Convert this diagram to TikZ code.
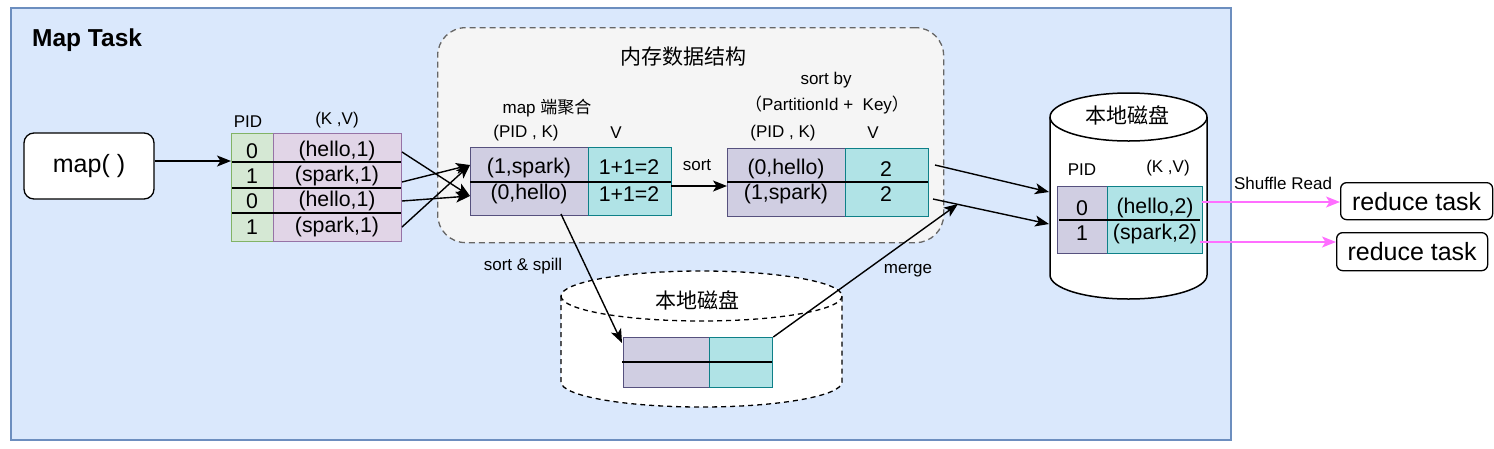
\documentclass[tikz,border=0pt]{standalone}
\usepackage{fontspec}
\setmainfont{Liberation Sans}
\newfontfamily\cjk{Noto Sans CJK SC}
\usetikzlibrary{arrows.meta}
\definecolor{outerfill}{HTML}{DAE8FC}
\definecolor{outerline}{HTML}{6C8EBF}
\definecolor{gfill}{HTML}{D5E8D4}
\definecolor{gline}{HTML}{82B366}
\definecolor{pfill}{HTML}{E1D5E7}
\definecolor{pline}{HTML}{9673A6}
\definecolor{qfill}{HTML}{D0CEE2}
\definecolor{qline}{HTML}{56517E}
\definecolor{tfill}{HTML}{B0E3E6}
\definecolor{tline}{HTML}{0E8088}
\definecolor{memfill}{HTML}{F5F5F5}
\definecolor{memline}{HTML}{666666}
\definecolor{pinkline}{HTML}{FF6EFF}
\tikzset{
  base/.style={font=\fontsize{21.3}{24}\selectfont, inner sep=0},
  lbl/.style={font=\fontsize{17}{20}\selectfont, inner sep=0},
  big/.style={font=\fontsize{25}{28}\selectfont, inner sep=0},
  cjklbl/.style={font=\fontsize{21}{24}\selectfont\cjk, inner sep=0},
  cell/.style={draw, line width=1.3pt, inner sep=0, anchor=north west},
  gcell/.style={cell, fill=gfill, draw=gline},
  pcell/.style={cell, fill=pfill, draw=pline},
  qcell/.style={cell, fill=qfill, draw=qline},
  tcell/.style={cell, fill=tfill, draw=tline},
  sepline/.style={line width=1.3pt},
  arr/.style={line width=1.4pt, -{Stealth[length=14pt,width=11pt,inset=3.5pt]}},
  parr/.style={arr, draw=pinkline, fill=pinkline},
  rbox/.style={draw, line width=1.3pt, fill=white, inner sep=0},
}
\begin{document}
\begin{tikzpicture}[x=1pt,y=-1pt]
\useasboundingbox (0,0) rectangle (1494,448);
% outer frame
\node[draw=outerline, fill=outerfill, line width=1.5pt, anchor=north west, minimum width=1220pt, minimum height=432pt, inner sep=0] (frame) at (10,7) {};
\node[font=\fontsize{24.5}{28}\selectfont\bfseries, inner sep=0, anchor=west] (title) at (32,40) {Map Task};
% memory container
\node[draw=memline, fill=memfill, line width=1.3pt, dash pattern=on 6pt off 4pt, rounded corners=28pt, anchor=north west, minimum width=506pt, minimum height=215pt, inner sep=0] (mem) at (437,27) {};
\node[cjklbl] (memtitle) at (683,57) {内存数据结构};
% local disk (dashed)
\filldraw[fill=white, line width=1.3pt, dash pattern=on 5pt off 4pt] (561,296) -- (561,382) arc[start angle=180, end angle=0, x radius=140.5, y radius=25] -- (842,296) arc[start angle=0, end angle=-180, x radius=140.5, y radius=25] -- cycle;
\draw[line width=1.3pt, dash pattern=on 5pt off 4pt] (561,296) arc[start angle=180, end angle=0, x radius=140.5, y radius=25];
\node[cjklbl] (disk1) at (697,300) {本地磁盘};
% local disk (solid)
\filldraw[fill=white, line width=1.5pt] (1050,117) -- (1050,275) arc[start angle=180, end angle=0, x radius=78.5, y radius=24] -- (1207,117) arc[start angle=0, end angle=-180, x radius=78.5, y radius=24] -- cycle;
\draw[line width=1.5pt] (1050,117) arc[start angle=180, end angle=0, x radius=78.5, y radius=24];
\node[cjklbl] (disk2) at (1127,115) {本地磁盘};
% map()
\node[rbox, big, rounded corners=10pt, minimum width=130pt, minimum height=66pt] (map) at (89,166) {map( )};
% table 1
\node[lbl] (h1a) at (248,122) {PID};
\node[lbl] (h1b) at (337,120) {(K ,V)};
\node[gcell, minimum width=42pt, minimum height=108pt] (t1p) at (231,133) {};
\node[pcell, minimum width=128pt, minimum height=108pt] (t1k) at (273,133) {};
\draw[sepline] (232,162) -- (401,162);
\draw[sepline] (232,188) -- (401,188);
\draw[sepline] (232,213) -- (401,213);
\node[base] (a1) at (252,151) {0};
\node[base] (a2) at (252,176) {1};
\node[base] (a3) at (252,201) {0};
\node[base] (a4) at (252,227) {1};
\node[base] (b1) at (337,151) {(hello,1)};
\node[base] (b2) at (337,176) {(spark,1)};
\node[base] (b3) at (337,201) {(hello,1)};
\node[base] (b4) at (337,227) {(spark,1)};
% table 2
\node[lbl] (h2t) at (547,108) {map {\cjk 端聚合}};
\node[lbl] (h2a) at (526,133) {(PID , K)};
\node[lbl] (h2b) at (616,133) {V};
\node[qcell, minimum width=118pt, minimum height=68pt] (t2k) at (470,147) {};
\node[tcell, minimum width=83pt, minimum height=68pt] (t2v) at (588,147) {};
\draw[sepline] (470,182) -- (671,182);
\node[base] (c1) at (529,168) {(1,spark)};
\node[base] (c2) at (529,194) {(0,hello)};
\node[base] (d1) at (629,167) {1+1=2};
\node[base] (d2) at (629,194) {1+1=2};
% table 3
\node[lbl] (h3t) at (826,80) {sort by};
\node[lbl] (h3u) at (827,105) {{\cjk （}PartitionId +\ \ Key{\cjk ）}};
\node[lbl] (h3a) at (783,133) {(PID , K)};
\node[lbl] (h3b) at (873,133) {V};
\node[qcell, minimum width=118pt, minimum height=68pt] (t3k) at (727,148) {};
\node[tcell, minimum width=83pt, minimum height=68pt] (t3v) at (845,148) {};
\draw[sepline] (727,182) -- (928,182);
\node[base] (e1) at (786,169) {(0,hello)};
\node[base] (e2) at (786,194) {(1,spark)};
\node[base] (f1) at (886,169) {2};
\node[base] (f2) at (886,194) {2};
\node[lbl] (sortlbl) at (697,165) {sort};
% small spill table
\node[qcell, minimum width=86pt, minimum height=50pt] (sk) at (623,337) {};
\node[tcell, minimum width=63pt, minimum height=50pt] (sv) at (709,337) {};
\draw[sepline] (622,362) -- (772,362);
\node[lbl] (spilllbl) at (523,266) {sort \& spill};
\node[lbl] (mergelbl) at (908,271) {merge};
% disk table
\node[lbl] (h4a) at (1082,170) {PID};
\node[lbl] (h4b) at (1168,168) {(K ,V)};
\node[qcell, minimum width=50pt, minimum height=67pt] (dk) at (1057,186) {};
\node[tcell, minimum width=95pt, minimum height=67pt] (dv) at (1107,186) {};
\draw[sepline] (1059,220) -- (1200,220);
\node[base] (g1) at (1082,208) {0};
\node[base] (g2) at (1082,233) {1};
\node[base] (k1) at (1155,208) {(hello,2)};
\node[base] (k2) at (1155,234) {(spark,2)};
% reduce tasks
\node[rbox, big, rounded corners=6pt, minimum width=152pt, minimum height=37pt, anchor=north west] (rt1) at (1340,182) {reduce task};
\node[rbox, big, rounded corners=6pt, minimum width=151pt, minimum height=38pt, anchor=north west] (rt2) at (1336,232) {reduce task};
\node[lbl] (shuffle) at (1283,183) {Shuffle Read};
% connector points
\coordinate (m0) at (231,161);
\coordinate (s1) at (402,152);
\coordinate (s2) at (402,182);
\coordinate (s3) at (402,201);
\coordinate (s4) at (402,227);
\coordinate (x1) at (470,165);
\coordinate (x2) at (470,196);
\coordinate (so) at (671,186);
\coordinate (sp0) at (561,214);
\coordinate (sp1) at (622,343);
\coordinate (r1) at (935,165);
\coordinate (r2) at (933,199);
\coordinate (q1) at (1049,192);
\coordinate (q2) at (1049,224);
\coordinate (mg) at (958,204);
\coordinate (p1) at (1202,202);
\coordinate (p2) at (1200,242);
% connectors
\draw[arr] (map.east |- m0) -- (m0);
\draw[arr] (s1) -- (x2);
\draw[arr] (s2) -- (x1);
\draw[arr] (s3) -- (x2);
\draw[arr] (s4) -- (x1);
\draw[arr] (so) -- (t3k.west |- so);
\draw[arr] (sp0) -- (sp1);
\draw[arr] (sv.north east) -- (mg);
\draw[arr] (r1) -- (q1);
\draw[arr] (r2) -- (q2);
\draw[parr] (p1) -- (rt1.west |- p1);
\draw[parr] (p2) -- (rt2.west |- p2);
\end{tikzpicture}
\end{document}
